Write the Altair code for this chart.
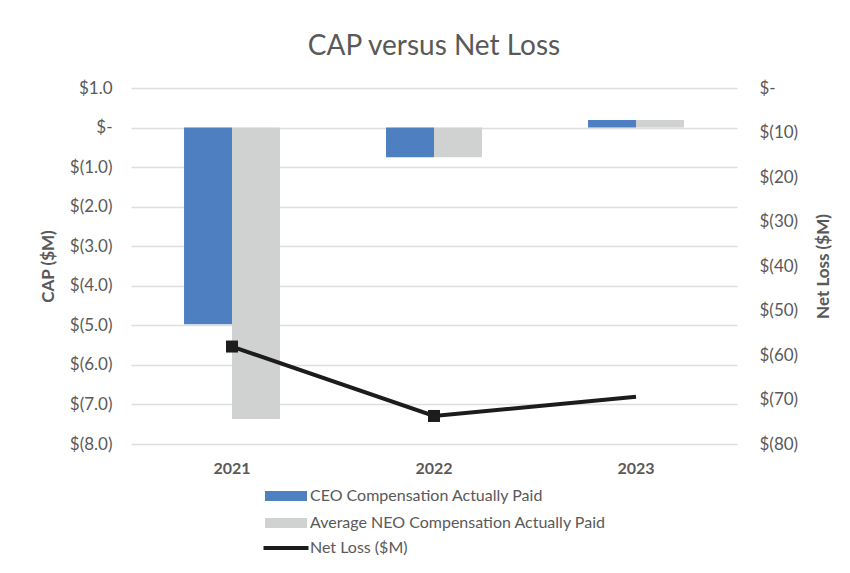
import altair as alt
import pandas as pd

years = ["2021", "2022", "2023"]
ceo_cap = [-4.97, -0.75, 0.19]
neo_cap = [-7.37, -0.75, 0.19]
net_loss = [-58.1, -73.7, -69.4]
net_loss_marker = [True, True, False]
series = ["CEO Compensation Actually Paid", "Average NEO Compensation Actually Paid"]
net_loss_name = "Net Loss ($M)"
left_ticks = [1, 0, -1, -2, -3, -4, -5, -6, -7, -8]
right_ticks = [0, -10, -20, -30, -40, -50, -60, -70, -80]

BLUE = "#4e7fc0"
GRAY = "#d0d1d1"
LINE = "#1c1c1c"
TXT = "#595959"
FONT = "Lato"

bar_rows = []
for i, y in enumerate(years):
    bar_rows.append({"year": y, "series": series[0], "value": ceo_cap[i]})
    bar_rows.append({"year": y, "series": series[1], "value": neo_cap[i]})
bars_df = pd.DataFrame(bar_rows)

line_df = pd.DataFrame({
    "year": years,
    "net_loss": net_loss,
    "marker": net_loss_marker,
    "name": [net_loss_name] * len(years),
})

x_scale = alt.Scale(domain=years, paddingInner=0.525, paddingOuter=0.2625)
right_scale = alt.Scale(domain=[-80, 0], nice=False, zero=False)

left_label = ("datum.value == 0 ? '$-' : (datum.value > 0 ? '$' + format(datum.value, '.1f') + '\u00a0' "
              ": '$(' + format(-datum.value, '.1f') + ')')")
right_label = "datum.value == 0 ? '$-' : '$(' + format(-datum.value, 'd') + ')'"

right_axis = alt.Axis(values=right_ticks, labelExpr=right_label, title="Net Loss ($M)",
                      orient="right", grid=False, ticks=False, domain=False,
                      labelPadding=22, labelAlign="left", titleX=86, titleY=178,
                      titleAngle=270, titleAlign="center", titleBaseline="middle")

bars = alt.Chart(bars_df).mark_bar().encode(
    x=alt.X("year:N", scale=x_scale, title=None,
            axis=alt.Axis(labelAngle=0, ticks=False, domain=False, labelPadding=16,
                          labelFontWeight="bold", labelFontSize=16, labelColor=TXT,
                          grid=False)),
    xOffset=alt.XOffset("series:N", sort=series,
                        scale=alt.Scale(domain=series, paddingInner=0, paddingOuter=0)),
    y=alt.Y("value:Q", scale=alt.Scale(domain=[-8, 1], nice=False, zero=False),
            axis=alt.Axis(values=left_ticks, labelExpr=left_label, title="CAP ($M)",
                          orient="left", grid=True, ticks=False, domain=False,
                          labelPadding=19, labelAlign="right", titleX=-83, titleY=178,
                          titleAngle=270, titleAlign="center", titleBaseline="middle")),
    color=alt.Color("series:N", sort=series,
                    scale=alt.Scale(domain=series, range=[BLUE, GRAY]),
                    legend=alt.Legend(orient="none", legendX=147, legendY=400, title=None,
                                      symbolType="M-4.2,-1L4.2,-1L4.2,1L-4.2,1Z",
                                      symbolSize=100, symbolStrokeWidth=0,
                                      labelOffset=16, rowPadding=11, padding=0,
                                      labelFontSize=16, labelColor=TXT, labelFont=FONT,
                                      labelLimit=500)),
)

line = alt.Chart(line_df).mark_line(strokeWidth=4).encode(
    x=alt.X("year:N", scale=x_scale, title=None),
    y=alt.Y("net_loss:Q", scale=right_scale, axis=right_axis),
    stroke=alt.Stroke("name:N", scale=alt.Scale(domain=[net_loss_name], range=[LINE]),
                      legend=alt.Legend(orient="none", legendX=147, legendY=452, title=None,
                                        symbolType="M-4.5,0L4.5,0", symbolSize=100,
                                        symbolStrokeWidth=4, labelOffset=16, padding=0,
                                        labelFontSize=16, labelColor=TXT, labelFont=FONT)),
)

points = alt.Chart(line_df).transform_filter("datum.marker").mark_square(
    size=144, filled=True, color=LINE, opacity=1
).encode(
    x=alt.X("year:N", scale=x_scale, title=None),
    y=alt.Y("net_loss:Q", scale=right_scale, axis=right_axis),
)

chart = alt.layer(bars, alt.layer(line, points)).resolve_scale(y="independent").properties(
    width=606,
    height=356,
    title=alt.TitleParams("CAP versus Net Loss", fontSize=28, font=FONT, color=TXT,
                          fontWeight="normal", offset=18, anchor="middle"),
    autosize=alt.AutoSizeParams(type="none"),
    padding={"left": 123, "top": 80, "right": 105, "bottom": 118},
    background="white",
).configure_view(stroke=None).configure_axis(
    labelFont=FONT, labelFontSize=17, labelColor=TXT,
    titleFont=FONT, titleFontSize=17, titleColor=TXT, titleFontWeight="bold",
    gridColor="#dedede", gridWidth=1.3,
)

chart.save("out.html", embed_options={"renderer": "svg", "actions": False})
